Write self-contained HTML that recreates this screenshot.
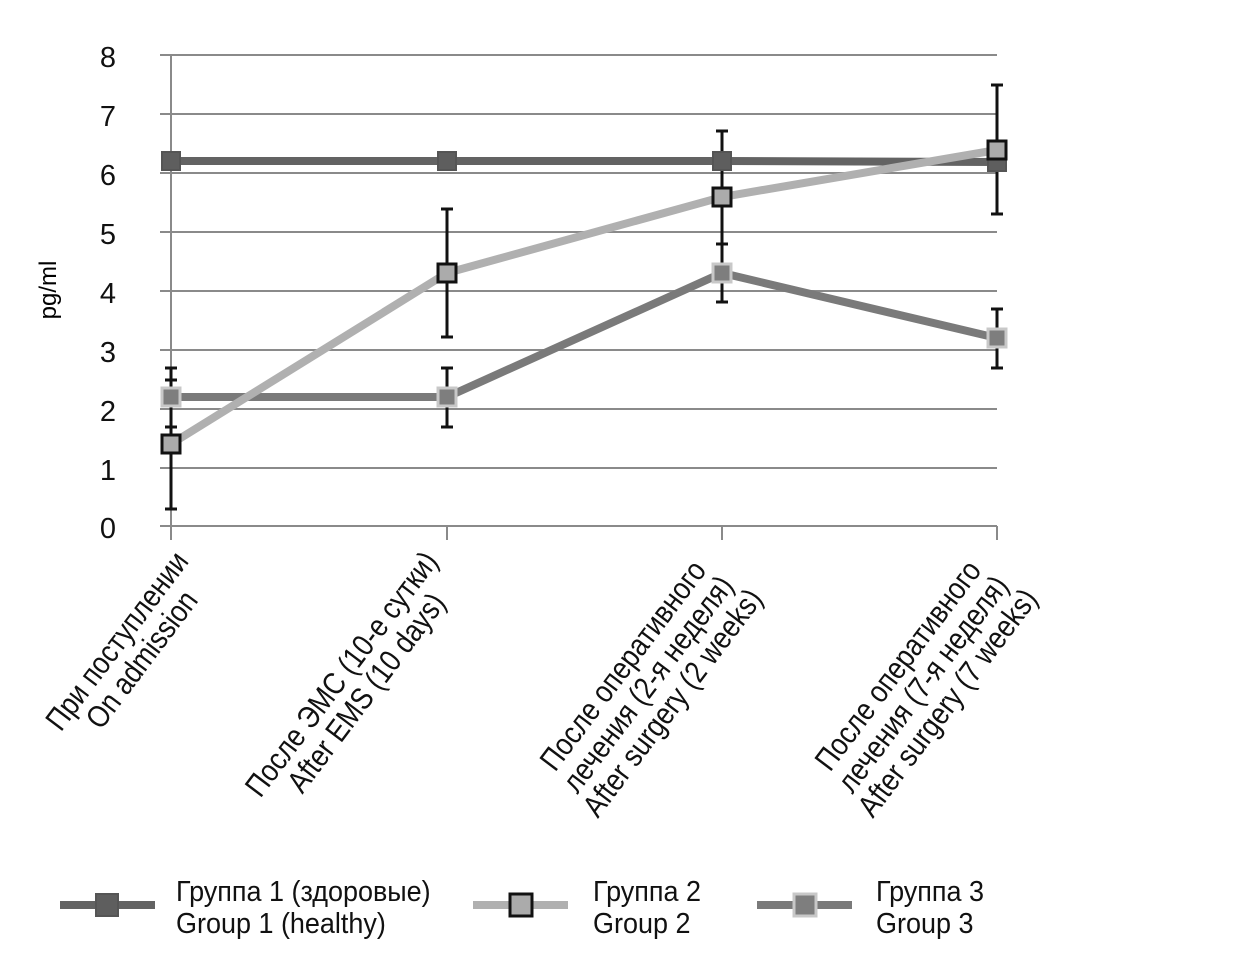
<!DOCTYPE html>
<html><head><meta charset="utf-8"><style>
body{margin:0;width:1240px;height:956px;background:#fff;position:relative;overflow:hidden;font-family:"Liberation Sans",sans-serif;color:#111}
.lab{position:absolute;transform-origin:100% 0;transform:rotate(-53deg) scaleX(0.86);text-align:center;white-space:nowrap;font-size:31px;line-height:31px}
.leg{position:absolute;font-size:29px;line-height:32px;transform-origin:0 0;transform:scaleX(0.93);white-space:nowrap}
</style></head><body>
<svg width="1240" height="956" style="position:absolute;left:0;top:0">
<g stroke="#8a8a8a" stroke-width="2">
<line x1="160" y1="55" x2="997" y2="55"/><line x1="160" y1="114" x2="997" y2="114"/>
<line x1="160" y1="173" x2="997" y2="173"/><line x1="160" y1="232" x2="997" y2="232"/>
<line x1="160" y1="291" x2="997" y2="291"/><line x1="160" y1="350" x2="997" y2="350"/>
<line x1="160" y1="409" x2="997" y2="409"/><line x1="160" y1="468" x2="997" y2="468"/>
<line x1="160" y1="526" x2="997" y2="526"/>
<line x1="171" y1="55" x2="171" y2="540"/>
<line x1="447" y1="526" x2="447" y2="540"/><line x1="722" y1="526" x2="722" y2="540"/><line x1="997" y1="526" x2="997" y2="540"/>
</g>
<g font-size="29" text-anchor="end" fill="#111">
<text x="116" y="67">8</text><text x="116" y="126">7</text><text x="116" y="185">6</text><text x="116" y="244">5</text>
<text x="116" y="303">4</text><text x="116" y="362">3</text><text x="116" y="421">2</text><text x="116" y="480">1</text><text x="116" y="538">0</text>
</g>
<text transform="translate(56,290) rotate(-90)" font-size="24" text-anchor="middle">pg/ml</text>
<g stroke="#111" stroke-width="3">
<path d="M171 368V509M165 368h12M165 509h12"/>
<path d="M447 209V337M441 209h12M441 337h12"/>
<path d="M722 131V244M716 131h12M716 244h12"/>
<path d="M997 85V214M991 85h12M991 214h12"/>
<path d="M171 380V427M165 380h12M165 427h12"/>
<path d="M447 368V427M441 368h12M441 427h12"/>
<path d="M722 244V302M716 244h12M716 302h12"/>
<path d="M997 309V368M991 309h12M991 368h12"/>
</g>
<polyline points="171,161 447,161 722,161 997,162" fill="none" stroke="#636363" stroke-width="8"/>
<g fill="#5e5e5e" stroke="#555" stroke-width="2">
<rect x="162" y="152" width="18" height="18"/><rect x="438" y="152" width="18" height="18"/><rect x="713" y="152" width="18" height="18"/><rect x="988" y="153" width="18" height="18"/>
</g>
<polyline points="171,397 447,397 722,273 997,338" fill="none" stroke="#7a7a7a" stroke-width="8"/>
<g fill="#7e7e7e" stroke="#c8c8c8" stroke-width="3">
<rect x="162" y="388" width="18" height="18"/><rect x="438" y="388" width="18" height="18"/><rect x="713" y="264" width="18" height="18"/><rect x="988" y="329" width="18" height="18"/>
</g>
<polyline points="171,444 447,273 722,197 997,150" fill="none" stroke="#b0b0b0" stroke-width="8"/>
<g fill="#ababab" stroke="#111" stroke-width="3">
<rect x="162" y="435" width="18" height="18"/><rect x="438" y="264" width="18" height="18"/><rect x="713" y="188" width="18" height="18"/><rect x="988" y="141" width="18" height="18"/>
</g>
<line x1="60" y1="905" x2="155" y2="905" stroke="#636363" stroke-width="8"/>
<rect x="96" y="894" width="22" height="22" fill="#5e5e5e" stroke="#555" stroke-width="2"/>
<line x1="473" y1="905" x2="568" y2="905" stroke="#b0b0b0" stroke-width="8"/>
<rect x="510" y="894" width="22" height="22" fill="#ababab" stroke="#111" stroke-width="3"/>
<line x1="757" y1="905" x2="852" y2="905" stroke="#7a7a7a" stroke-width="8"/>
<rect x="794" y="894" width="22" height="22" fill="#7e7e7e" stroke="#c8c8c8" stroke-width="3"/>
</svg>
<div class="lab" style="right:1071px;top:546px">При поступлении<br>On admission</div>
<div class="lab" style="right:822px;top:546px">После ЭМС (10-е сутки)<br>After EMS (10 days)</div>
<div class="lab" style="right:547px;top:546px">После оперативного<br>лечения (2-я неделя)<br>After surgery (2 weeks)</div>
<div class="lab" style="right:272px;top:546px">После оперативного<br>лечения (7-я неделя)<br>After surgery (7 weeks)</div>
<div class="leg" style="left:176px;top:876px">Группа 1 (здоровые)<br>Group 1 (healthy)</div>
<div class="leg" style="left:593px;top:876px">Группа 2<br>Group 2</div>
<div class="leg" style="left:876px;top:876px">Группа 3<br>Group 3</div>
</body></html>
